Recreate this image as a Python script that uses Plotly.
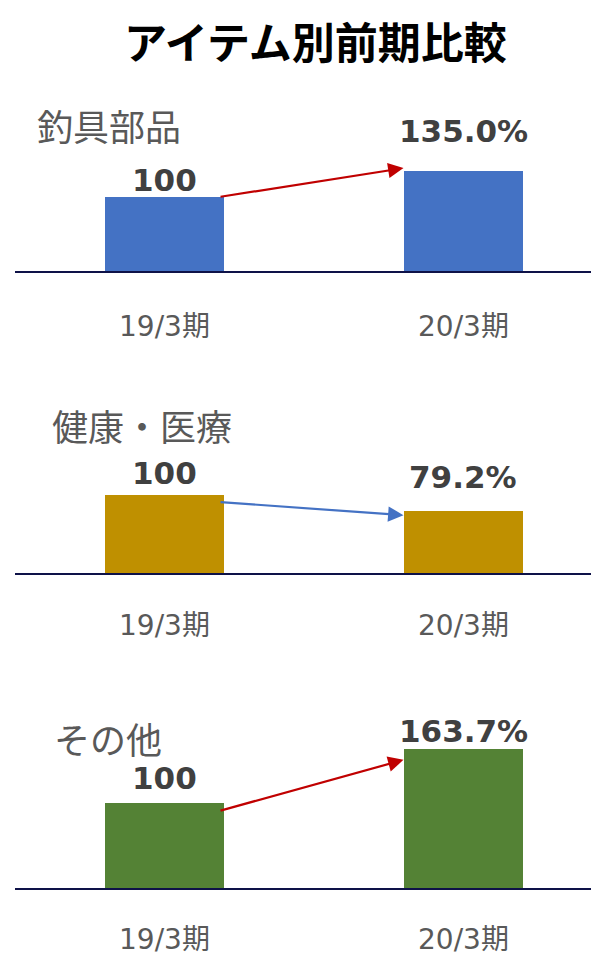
import plotly.graph_objects as go

# ---- data ----
panels = ["釣具部品", "健康・医療", "その他"]
periods = ["19/3期", "20/3期"]
values = [[100, 135.0], [100, 79.2], [100, 163.7]]
bar_colors = ["#4472C4", "#BF9000", "#548235"]
arrow_colors = ["#C00000", "#4472C4", "#C00000"]

# ---- styling / layout helpers (pixels, measured in the window) ----
OFF = 8  # default page body margin
W, H = 599 - OFF, 956 - OFF
baseline_px = [271, 573, 888]
top_px = [120, 430, 700]
px_per_100 = [74, 78, 85]
label_shift = [[17, 40], [22, 34], [25, 18]]
cat_shift = [-55, -52, -51]
arrow_offsets = [[0, -3], [7, 4], [8, 11]]
title_pos = [(35, 125), (50, 425), (52, 738)]

x_left_px, center0_px, step_px = 15, 164, 299
xr = [-(center0_px - x_left_px) / step_px, 1 + (599 - (center0_px + step_px)) / step_px]
bar_w = 119 / step_px


def py(p):
    return 1 - (p - OFF) / H


def pxx(p):
    return (p - OFF) / W


fig = go.Figure()
annotations = []
label_font = dict(family="Verdana, DejaVu Sans, Noto Sans CJK JP", size=31, color="#404040", weight="bold")
cat_font = dict(family="Verdana, DejaVu Sans, Noto Sans CJK JP", size=28, color="#595959")
panel_font = dict(family="Noto Sans CJK JP", size=36, color="#595959")

for i, (name, vals) in enumerate(zip(panels, values)):
    k = i + 1
    xa = "x" if k == 1 else f"x{k}"
    ya = "y" if k == 1 else f"y{k}"
    fig.add_trace(go.Bar(x=[0, 1], y=vals, width=bar_w, marker=dict(color=bar_colors[i], line=dict(width=0)),
                         xaxis=xa, yaxis=ya, showlegend=False, hoverinfo="skip"))
    dom = [py(baseline_px[i]), py(top_px[i])]
    yrange = [0, (baseline_px[i] - top_px[i]) / px_per_100[i] * 100]
    axk = "" if k == 1 else str(k)
    fig.update_layout(**{
        f"xaxis{axk}": dict(domain=[pxx(x_left_px), 1], range=xr, showline=True, linecolor="#0E1248",
                           linewidth=2, showgrid=False, zeroline=False, showticklabels=False, ticks="",
                           anchor=ya, fixedrange=True),
        f"yaxis{axk}": dict(domain=dom, range=yrange, visible=False, anchor=xa, fixedrange=True),
    })
    for j, v in enumerate(vals):
        txt = "100" if j == 0 else f"{v:.1f}%"
        annotations.append(dict(x=j, y=v, xref=xa, yref=ya, text=txt, showarrow=False, font=label_font,
                                yanchor="middle", yshift=label_shift[i][j]))
        annotations.append(dict(x=j, y=0, xref=xa, yref=ya, text=periods[j], showarrow=False, font=cat_font,
                                yanchor="middle", yshift=cat_shift[i]))
    s_off, e_off = arrow_offsets[i]
    y_start = vals[0] - s_off / px_per_100[i] * 100
    y_end = vals[1] - e_off / px_per_100[i] * 100
    annotations.append(dict(x=1 - bar_w / 2, y=y_end, xref=xa, yref=ya,
                            ax=bar_w / 2 - 0.015, ay=y_start, axref=xa, ayref=ya,
                            showarrow=True, arrowhead=2, arrowsize=1.4, arrowwidth=2.2,
                            arrowcolor=arrow_colors[i], standoff=0, text=""))
    tx, ty = title_pos[i]
    annotations.append(dict(x=pxx(tx), y=py(ty), xref="paper", yref="paper", text=name, showarrow=False,
                            xanchor="left", yanchor="middle", font=panel_font))

annotations.append(dict(x=pxx(315), y=1, xref="paper", yref="paper", text="アイテム別前期比較",
                        showarrow=False, xanchor="center", yanchor="top", borderpad=0,
                        font=dict(family="Noto Sans CJK JP", size=43, color="#000000", weight="bold")))

fig.update_layout(width=W, height=H, margin=dict(l=0, r=0, t=0, b=0), paper_bgcolor="white",
                  plot_bgcolor="white", annotations=annotations, bargap=0)

fig.write_html("out.html", config={"displayModeBar": False})
